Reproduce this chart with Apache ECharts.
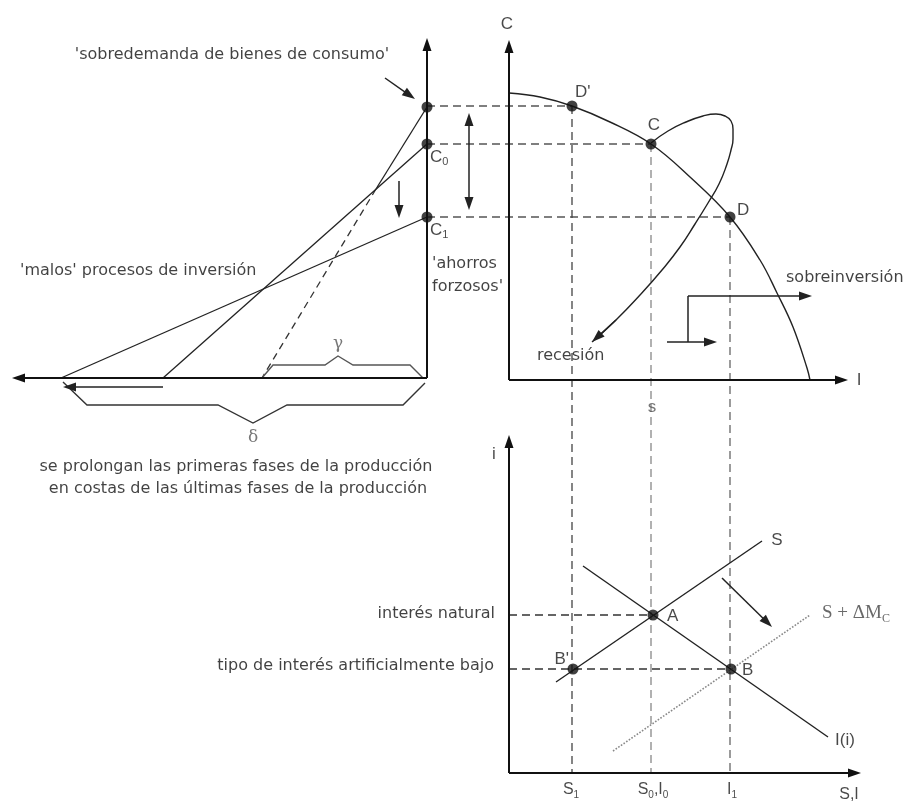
<!DOCTYPE html>
<html>
<head>
<meta charset="utf-8">
<script src="https://cdn.jsdelivr.net/npm/echarts@6/dist/echarts.min.js"></script>
<style>
html, body { margin: 0; padding: 0; background: #fff; }
#chart { width: 904px; height: 803px; }
</style>
</head>
<body>
<div id="chart"></div>
<script>
// diagram: x to the right, y downwards
var triangleOrigin = [427, 378];
var ppfOrigin = [509, 380];
var marketOrigin = [509, 773];
var axisTips = [[427, 38], [12, 378], [509, 40], [848, 380], [509, 435], [861, 773]];

// left panel (hayekian triangle)
var consumptionLevels = [107, 144, 217];          // over-demand, C0, C1
var stageEnds = [262, 163, 61];                    // where each triangle meets the time axis
var triangleCross = [376, 189];                    // solid part of the first line ends here
var braceGamma = [[262, 378], [273, 365], [325, 365], [338, 356], [353, 365], [410, 365], [423, 378]];
var braceDelta = [[63, 382], [87, 405], [218, 405], [253, 423], [287, 405], [403, 405], [425, 383]];

// upper right panel (frontier C / I)
var ppfCurve = [[509, 93], [540, 97], [572, 106], [610, 122], [651, 144], [690, 177], [730, 217],
  [760, 260], [777, 293], [793, 327], [807, 368], [810, 380]];
var ppfPoints = [[572, 106], [651, 144], [730, 217]];   // D', C, D
var cycleLoop = [[651, 143], [668, 131], [686, 122], [703, 116], [716, 114], [725, 116], [731, 121],
  [733, 129], [733, 139], [731, 150], [727, 164], [719, 184], [708, 203], [695, 224], [680, 247],
  [662, 270], [640, 295], [616, 320], [592, 342]];
var stepArrow = [[688, 342], [688, 296], [812, 296]];

// lower right panel (loanable funds)
var savingsLine = [[556, 682], [762, 541]];
var investLine = [[583, 566], [828, 737]];
var expandedSavings = [[613, 751], [810, 615]];
var marketPoints = [[653, 615], [731, 669], [573, 669]];  // A, B, B'

// free arrows [from, tip]
var shiftArrows = [
  [[163, 387], [63, 387]],
  [[399, 181], [399, 218]],
  [[385, 78], [415, 99]],
  [[667, 342], [717, 342]],
  [[722, 578], [772, 627]]
];
var doubleArrow = [[469, 113], [469, 210]];

// texts: [text, x, y, align]
var noteLabels = [
  ["'sobredemanda de bienes de consumo'", 232, 55, 'center'],
  ["'malos' procesos de inversión", 20, 271, 'left'],
  ["'ahorros", 432, 264, 'left'],
  ["forzosos'", 432, 287, 'left'],
  ['se prolongan las primeras fases de la producción', 236, 467, 'center'],
  ['en costas de las últimas fases de la producción', 238, 489, 'center'],
  ['sobreinversión', 786, 278, 'left'],
  ['recesión', 537, 356, 'left'],
  ['interés natural', 495, 614, 'right'],
  ['tipo de interés artificialmente bajo', 494, 666, 'right']
];
var pointLabels = [
  ['C', 507, 24, 'center'],
  ["D'", 575, 92, 'left'],
  ['C', 654, 125, 'center'],
  ['D', 737, 210, 'left'],
  ['I', 859, 380, 'center'],
  ['i', 494, 454, 'center'],
  ['S', 777, 540, 'center'],
  ['A', 667, 616, 'left'],
  ["B'", 569, 659, 'right'],
  ['B', 742, 670, 'left'],
  ['I(i)', 835, 740, 'left'],
  ['C{s|0}', 430, 157, 'left'],
  ['C{s|1}', 430, 230, 'left']
];
var tickLabels = [
  ['S{s|1}', 571, 790, 'center'],
  ['S{s|0},I{s|0}', 653, 790, 'center'],
  ['I{s|1}', 732, 790, 'center'],
  ['S,I', 849, 795, 'center']
];
var greekLabels = [['γ', 338, 344, 'center'], ['δ', 253, 438, 'center']];
var shiftLabels = [['S + ΔM{s|C}', 822, 613, 'left']];
var smallLabels = [['s', 652, 407, 'center']];

var ARROW = [9, 13];

function towards(from, tip, back) {
  var dx = tip[0] - from[0], dy = tip[1] - from[1];
  var d = Math.sqrt(dx * dx + dy * dy);
  return [tip[0] - dx / d * back, tip[1] - dy / d * back];
}
function arrowSeg(from, tip) { return [from, towards(from, tip, ARROW[1] / 2)]; }

function polySeries(list, color, width, type) {
  return {
    type: 'lines', coordinateSystem: 'cartesian2d', polyline: true, silent: true,
    data: list.map(function (c) { return { coords: c }; }),
    lineStyle: { color: color, width: width, type: type || 'solid', opacity: 1 },
    z: 2
  };
}
function arrowSeries(list, color, width, both) {
  return {
    type: 'lines', coordinateSystem: 'cartesian2d', silent: true,
    data: list.map(function (c) { return { coords: c }; }),
    symbol: [both ? 'triangle' : 'none', 'triangle'],
    symbolSize: [ARROW, ARROW],
    lineStyle: { color: color, width: width, opacity: 1 },
    itemStyle: { color: color },
    z: 3
  };
}
function textSeries(list, font, size, color) {
  return {
    type: 'scatter', silent: true, symbolSize: 1, z: 6,
    itemStyle: { color: 'rgba(0,0,0,0)' },
    data: list.map(function (t) {
      return { name: t[0], value: [t[1], t[2]], label: { align: t[3] } };
    }),
    label: {
      show: true, position: 'inside', formatter: '{b}', verticalAlign: 'middle',
      fontFamily: font, fontSize: size, color: color, lineHeight: size + 4,
      rich: { s: { fontFamily: font, fontSize: Math.round(size * 0.62), color: color,
        lineHeight: Math.round(size * 0.62) + 1, verticalAlign: 'bottom' } }
    }
  };
}

// axes from the three origins
var axisSegs = [
  arrowSeg(triangleOrigin, axisTips[0]), arrowSeg(triangleOrigin, axisTips[1]),
  arrowSeg(ppfOrigin, axisTips[2]), arrowSeg(ppfOrigin, axisTips[3]),
  arrowSeg(marketOrigin, axisTips[4]), arrowSeg(marketOrigin, axisTips[5])
];

// triangle lines
var axisX = triangleOrigin[0], baseY = triangleOrigin[1];
var triangleSolid = [
  [[axisX, consumptionLevels[0]], triangleCross],
  [[axisX, consumptionLevels[1]], [stageEnds[1], baseY]],
  [[axisX, consumptionLevels[2]], [stageEnds[2], baseY]]
];
var triangleDashed = [[triangleCross, [stageEnds[0], baseY]]];

// guides
var hGuides = ppfPoints.map(function (p) { return [[axisX, p[1]], p]; });
var vGuides = ppfPoints.map(function (p) { return [p, [p[0], marketOrigin[1]]]; });
var marketGuides = [
  [[marketOrigin[0], marketPoints[0][1]], marketPoints[0]],
  [[marketOrigin[0], marketPoints[1][1]], marketPoints[1]]
];

var stepSegs = [[stepArrow[0], stepArrow[1]]];
var stepArrowSeg = [arrowSeg(stepArrow[1], stepArrow[2])];
var loopHead = [arrowSeg(cycleLoop[cycleLoop.length - 2], cycleLoop[cycleLoop.length - 1])];
var freeArrows = shiftArrows.map(function (a) { return arrowSeg(a[0], a[1]); });
var dbl = [[towards(doubleArrow[1], doubleArrow[0], ARROW[1] / 2), towards(doubleArrow[0], doubleArrow[1], ARROW[1] / 2)]];

var leftDots = consumptionLevels.map(function (y) { return [axisX, y]; });

var chart = echarts.init(document.getElementById('chart'));
var option = {
  animation: false,
  backgroundColor: '#fff',
  grid: { left: 0, right: 0, top: 0, bottom: 0 },
  xAxis: { type: 'value', min: 0, max: 904, show: false },
  yAxis: { type: 'value', min: 0, max: 803, inverse: true, show: false },
  series: [
    polySeries(hGuides, '#555', 1.3, [8, 5]),
    polySeries(vGuides.slice(0, 1), '#444', 1.3, [8, 5]),
    polySeries(vGuides.slice(1, 2), '#888', 1.3, [8, 5]),
    polySeries(vGuides.slice(2), '#666', 1.3, [8, 5]),
    polySeries(marketGuides, '#333', 1.3, [8, 5]),
    polySeries(triangleDashed, '#333', 1.3, [7, 5]),
    polySeries(triangleSolid, '#222', 1.3),
    polySeries([braceGamma], '#555', 1.4),
    polySeries([braceDelta], '#333', 1.4),
    polySeries([savingsLine, investLine], '#222', 1.4),
    polySeries([expandedSavings], '#888', 1.6, 'dotted'),
    polySeries(stepSegs, '#222', 1.5),
    arrowSeries(axisSegs, '#111', 2),
    arrowSeries(freeArrows.concat(stepArrowSeg, loopHead), '#222', 1.5),
    arrowSeries(dbl, '#222', 1.5, true),
    {
      type: 'line', data: ppfCurve, smooth: 0.4, showSymbol: false, silent: true,
      lineStyle: { color: '#222', width: 1.4 }, z: 2
    },
    {
      type: 'line', data: cycleLoop, smooth: 0.5, showSymbol: false, silent: true,
      lineStyle: { color: '#222', width: 1.4 }, z: 2
    },
    {
      type: 'scatter', data: leftDots.concat(ppfPoints, marketPoints), symbolSize: 11,
      itemStyle: { color: '#111' }, silent: true, z: 4
    },
    textSeries(noteLabels, 'DejaVu Sans', 16, '#111'),
    textSeries(pointLabels, 'Liberation Sans', 17, '#1a1a1a'),
    textSeries(tickLabels, 'Liberation Sans', 16, '#1a1a1a'),
    textSeries(greekLabels, 'DejaVu Serif', 17, '#555'),
    textSeries(shiftLabels, 'Liberation Serif', 19, '#444'),
    textSeries(smallLabels, 'Liberation Sans', 17, '#555')
  ]
};
chart.setOption(option);
</script>
</body>
</html>
